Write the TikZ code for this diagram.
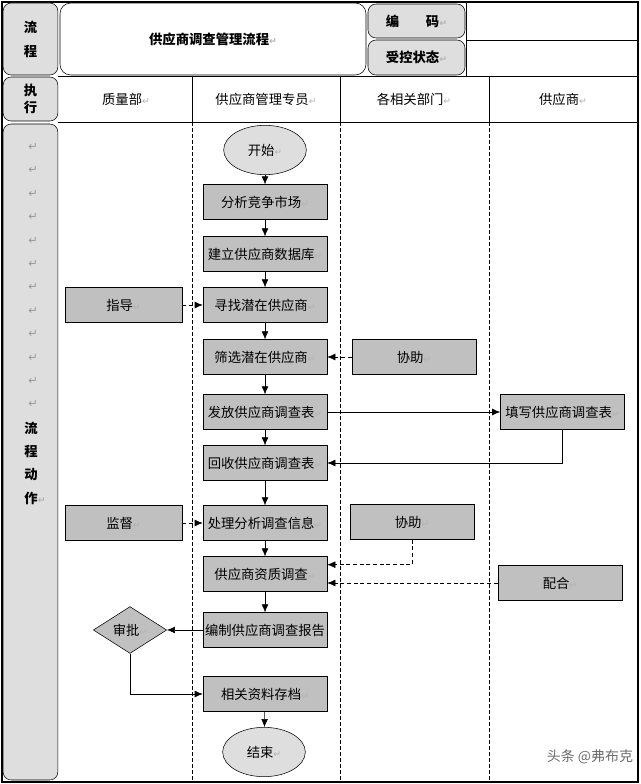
\documentclass[tikz,border=0pt]{standalone}
\usepackage{fontspec}
\setmainfont{Noto Sans CJK SC}
\newfontfamily\symfont{DejaVu Sans}
\usepackage{xcolor}
\usepackage{tikz}
\usetikzlibrary{shapes,arrows,arrows.meta,positioning}
\definecolor{boxgray}{RGB}{192,192,192}
\definecolor{lanegray}{RGB}{222,222,222}
\newcommand{\parmk}{\textcolor{gray!60}{\symfont\fontsize{7}{7}\selectfont ↵}}
\newcommand{\lanemk}{\textcolor{gray!80}{\symfont\fontsize{8.5}{9}\selectfont ↵}}

\begin{document}
\begin{tikzpicture}[x=0.75pt, y=-0.75pt, >={Latex[length=6pt,width=5pt]},
  font=\fontsize{10}{12}\selectfont,
  proc/.style={draw, fill=boxgray, minimum width=93pt, minimum height=26pt, inner sep=1pt},
  term/.style={ellipse, draw, fill=lanegray, minimum width=62pt, minimum height=37pt, inner sep=1pt},
  lane/.style={draw, rounded corners=6pt, fill=lanegray, inner sep=1pt},
  sep/.style={dash pattern=on 3pt off 1.5pt},
  aux/.style={->, dash pattern=on 3pt off 2pt}]

\useasboundingbox (0,0) rectangle (640,784);
\draw [line width=1pt] (2,2) rectangle (638,782);

\node [lane, minimum width=41pt, minimum height=54pt, align=center] (head-flow) at (30.5,39) {\bfseries 流\\[6pt]\bfseries 程};
\node [draw, rounded corners=8pt, minimum width=229.5pt, minimum height=54pt] (head-title) at (213,39) {\bfseries 供应商调查管理流程\parmk};
\node [lane, minimum width=72.75pt, minimum height=25.5pt] (head-code) at (416.5,21) {\bfseries 编\quad\quad 码\parmk};
\node [lane, minimum width=72.75pt, minimum height=26.25pt] (head-state) at (416.5,57.5) {\bfseries 受控状态\parmk};
\node [lane, minimum width=41pt, minimum height=33pt, align=center] (head-exec) at (30.5,99) {\bfseries 执\\[1pt]\bfseries 行};
\node [lane, minimum width=41pt, minimum height=492pt] (lane-acts) at (30.5,452) {};

\draw (58,76) -- (638,76);
\draw (58,122) -- (638,122);
\draw (466,40) -- (638,40);
\draw (466,2) -- (466,76);

\foreach \x in {192,340,489} {
  \draw (\x,76) -- (\x,122);
  \draw [sep] (\x,122) -- (\x,782);
}

\foreach \t/\x [count=\i] in {质量部/126, 供应商管理专员/266, 各相关部门/414, 供应商/563}
  \node (dept-\i) at (\x,99) {\t\parmk};

\foreach \k in {0,...,11}
  \node (mark-\k) at (33,{147+23.4*\k}) {\lanemk};

\foreach \t [count=\k from 0] in {流,程,动}
  \node (act-\k) at (31,{428+23.4*\k}) {\bfseries \t};
\node (act-3) at (35,498) {\bfseries 作\parmk};

\node [term] (start) at (265,150) {开始\parmk};

\foreach \t/\y [count=\i] in {分析竞争市场\parmk/202, 建立供应商数据库\parmk/254,
    寻找潜在供应商\parmk/305, 筛选潜在供应商\parmk/357, 发放供应商调查表\parmk/412,
    回收供应商调查表\parmk/463, 处理分析调查信息\parmk/523, 供应商资质调查\parmk/574,
    编制供应商调查报告/630, 相关资料存档\parmk/694}
  \node [proc] (step-\i) at (265,\y) {\t};

\node [term] (stop) at (264,752) {结束\parmk};

\node [proc, minimum width=88pt] (guide) at (123.5,305) {指导\parmk};
\node [proc, minimum width=88pt] (watch) at (123.5,523) {监督\parmk};
\node [diamond, draw, fill=boxgray, minimum width=55pt, minimum height=32pt, inner sep=0pt] (approve) at (130,630) {审批\parmk};

\node [proc] (assist-1) at (414,357) {协助\parmk};
\node [proc] (fill-in) at (562.5,412) {填写供应商调查表\parmk};
\node [proc] (assist-2) at (412,522) {协助\parmk};
\node [proc] (coop) at (560,583) {配合\parmk};

\foreach \a/\b in {start/step-1, step-1/step-2, step-2/step-3, step-3/step-4,
    step-4/step-5, step-5/step-6, step-6/step-7, step-7/step-8, step-8/step-9, step-10/stop}
  \draw [->] (\a) -- (\b);

\draw [aux] (guide) -- (step-3);
\draw [aux] (assist-1) -- (step-4);
\draw [->] (step-5) -- (fill-in);
\draw [->] (fill-in.south) |- (step-6.east);
\draw [aux] (watch) -- (step-7);
\draw [aux] (assist-2.south) |- ([yshift=7pt]step-8.east);
\draw [aux] (coop.west) -- (coop.west -| step-8.east);
\draw [->] (step-9) -- (approve);
\draw [->] (approve.south) |- (step-10.west);

\node [text=gray!85!black, font=\fontsize{10.5}{12}\selectfont] (credit) at (590,757) {头条 @弗布克};

\end{tikzpicture}
\end{document}
